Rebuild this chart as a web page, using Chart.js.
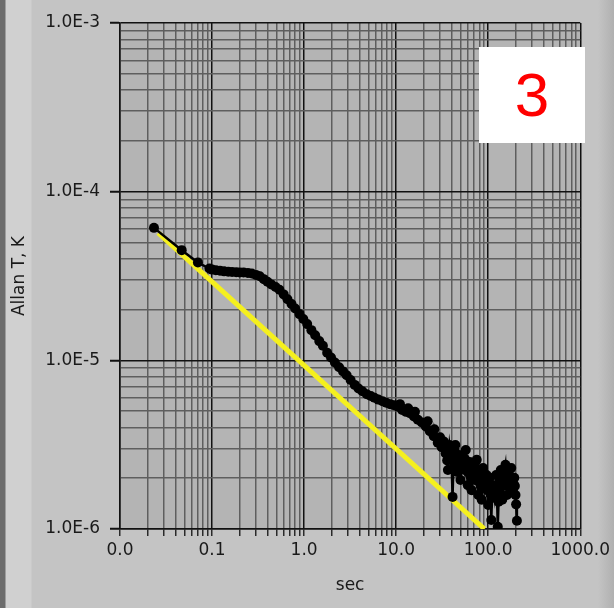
<!DOCTYPE html>
<html>
<head>
<meta charset="utf-8">
<script src="https://cdn.jsdelivr.net/npm/chart.js@4"></script>
<style>
  body { margin: 0; }
  #panel {
    position: relative; width: 614px; height: 608px; overflow: hidden;
    background: linear-gradient(to right, #6c6c6c 0px, #6c6c6c 5px, #d0d0d0 6px, #d0d0d0 31px, #c4c4c4 32px, #c4c4c4 598px, #b0b0b0 614px);
  }
  #myChart { position: absolute; left: 0; top: 0; }
  #tag {
    position: absolute; left: 479px; top: 47px; width: 106px; height: 96px;
    background: #ffffff; color: #ff0000; font-family: "Liberation Sans", Arial, sans-serif;
    font-size: 62px; line-height: 96px; text-align: center;
  }
</style>
</head>
<body>
<div id="panel">
  <canvas id="myChart" width="614" height="608"></canvas>
  <div id="tag">3</div>
</div>
<script>
let tau = [0.0234, 0.0468, 0.0702, 0.0936,
    0.1, 0.11, 0.122, 0.135, 0.15, 0.165, 0.183, 0.2, 0.22, 0.245,
    0.27, 0.3, 0.33, 0.365, 0.4, 0.44, 0.49, 0.54, 0.6, 0.66,
    0.73, 0.8, 0.89, 0.98, 1.08, 1.2, 1.32, 1.46, 1.6, 1.78,
    1.96, 2.16, 2.4, 2.65, 2.9, 3.2, 3.55, 3.9, 4.3, 4.8,
    5.3, 5.8, 6.4, 7.1, 7.8, 8.6, 9.5, 10.5, 11, 11.6,
    12.8, 13.5, 14.1, 15.6, 16, 17.2, 19, 21, 22, 23.2,
    25.6, 26, 28.3, 30, 31.2, 33, 34.5,
    35, 35.8, 36.5, 37.2, 38, 39, 40, 41, 41.8, 42.5,
    43.2, 44, 45, 46, 47, 48, 49, 50, 51, 52,
    53.5, 55, 56, 57, 58.5, 60, 61.5, 63, 64.5, 66,
    67.5, 69, 70.5, 72, 73.5, 75, 76.5, 78, 79.5, 81,
    83, 85, 86.5, 88, 90, 92, 94, 96, 98, 100,
    102, 104, 106, 108, 110, 112, 114.5, 117, 119.5, 122,
    124.5, 127, 129.5, 132, 134.5, 137, 139.5, 142, 145, 148,
    151, 154, 157, 160, 163, 166, 169, 172, 175, 178,
    181.5, 185, 188.5, 192, 195, 198, 201, 205];
let allanT = [6.1e-5, 4.5e-5, 3.8e-5, 3.5e-5,
    3.45e-5, 3.42e-5, 3.4e-5, 3.37e-5, 3.35e-5, 3.34e-5, 3.33e-5, 3.32e-5, 3.32e-5, 3.3e-5,
    3.27e-5, 3.21e-5, 3.15e-5, 3.03e-5, 2.92e-5, 2.82e-5, 2.72e-5, 2.62e-5, 2.46e-5, 2.3e-5,
    2.16e-5, 2.03e-5, 1.88e-5, 1.76e-5, 1.64e-5, 1.51e-5, 1.41e-5, 1.3e-5, 1.22e-5, 1.11e-5,
    1.04e-5, 9.7e-6, 9.1e-6, 8.6e-6, 8.15e-6, 7.65e-6, 7.15e-6, 6.8e-6, 6.55e-6, 6.3e-6,
    6.15e-6, 6.0e-6, 5.85e-6, 5.72e-6, 5.6e-6, 5.5e-6, 5.42e-6, 5.3e-6, 5.5e-6, 5.08e-6,
    4.95e-6, 5.2e-6, 4.85e-6, 4.65e-6, 4.95e-6, 4.45e-6, 4.28e-6, 4.05e-6, 4.35e-6, 3.8e-6,
    3.55e-6, 3.9e-6, 3.25e-6, 3.5e-6, 3.05e-6, 3.3e-6, 2.8e-6,
    2.94e-6, 2.55e-6, 2.24e-6, 2.7e-6, 3.15e-6, 2.85e-6, 2.57e-6, 1.55e-6, 2.3e-6, 2.5e-6,
    2.9e-6, 3.15e-6, 2.6e-6, 2.18e-6, 2.45e-6, 2.75e-6, 2.4e-6, 1.95e-6, 2.3e-6, 2.64e-6,
    2.4e-6, 2.24e-6, 2.6e-6, 2.94e-6, 2.3e-6, 1.82e-6, 2.15e-6, 2.5e-6, 2.05e-6, 1.7e-6,
    2.0e-6, 2.4e-6, 2.2e-6, 1.95e-6, 2.3e-6, 2.57e-6, 2.0e-6, 1.59e-6, 1.9e-6, 2.24e-6,
    1.8e-6, 1.49e-6, 1.85e-6, 2.3e-6, 2.0e-6, 1.75e-6, 1.9e-6, 2.09e-6, 1.7e-6, 1.39e-6,
    1.75e-6, 2.01e-6, 1.6e-6, 1.13e-6, 1.55e-6, 1.82e-6, 1.65e-6, 1.53e-6, 1.8e-6, 2.09e-6,
    1.6e-6, 1.03e-6, 1.45e-6, 1.7e-6, 2.0e-6, 2.24e-6, 1.85e-6, 1.49e-6, 1.8e-6, 2.07e-6,
    2.25e-6, 2.4e-6, 2.0e-6, 1.59e-6, 1.9e-6, 2.18e-6, 2.0e-6, 1.82e-6, 2.05e-6, 2.3e-6,
    2.0e-6, 1.7e-6, 1.85e-6, 2.01e-6, 1.8e-6, 1.59e-6, 1.4e-6, 1.12e-6];

// yellow reference line (end points)
let fitTau = [0.026, 91];
let fitT = [5.7e-5, 1.0e-6];

// axis decades
let xDecades = [0.01, 0.1, 1, 10, 100, 1000];
let yDecades = [1e-6, 1e-5, 1e-4, 1e-3];

function isDecade(v) {
    let l = Math.log10(v);
    return Math.abs(l - Math.round(l)) < 1e-6;
}

// 1..9 ticks in every decade, like the LabVIEW log grid
function logTicks(decades) {
    let out = [];
    for (let i = 0; i < decades.length; i++) {
        let d = decades[i];
        if (i == decades.length - 1) {
            out.push({ value: d });
            break;
        }
        for (let m = 1; m <= 9; m++) {
            out.push({ value: parseFloat((m * d).toPrecision(3)) });
        }
    }
    return out;
}

let pairs = tau.map((t, i) => ({ x: t, y: allanT[i] }));
let fitPairs = fitTau.map((t, i) => ({ x: t, y: fitT[i] }));

let labelFont = { family: 'DejaVu Sans', size: 17 };

const plotBg = {
    id: 'plotBg',
    beforeDraw(chart) {
        let a = chart.chartArea;
        let c = chart.ctx;
        c.save();
        c.fillStyle = '#b4b4b4';
        c.fillRect(a.left, a.top, a.right - a.left, a.bottom - a.top);
        c.restore();
    }
};

const config = {
    type: 'scatter',
    data: {
        datasets: [{
            data: pairs,
            showLine: true,
            borderColor: '#000000',
            borderWidth: 2.5,
            pointRadius: 5,
            pointBackgroundColor: '#000000',
            pointBorderColor: '#000000',
            pointBorderWidth: 0
        }, {
            data: fitPairs,
            showLine: true,
            borderColor: '#f5f01e',
            borderWidth: 5,
            pointRadius: 0
        }]
    },
    options: {
        responsive: false,
        animation: false,
        events: [],
        layout: { padding: { top: 23, right: 33, left: 0, bottom: 0 } },
        plugins: { legend: { display: false }, tooltip: { enabled: false } },
        scales: {
            x: {
                type: 'logarithmic',
                position: 'bottom',
                min: 0.01,
                max: 1000,
                afterBuildTicks: (scale) => { scale.ticks = logTicks(xDecades); },
                afterFit: (scale) => { scale.height = 79; },
                ticks: {
                    autoSkip: false,
                    maxRotation: 0,
                    padding: 4,
                    color: '#1a1a1a',
                    font: labelFont,
                    callback: (v) => isDecade(v) ? v.toFixed(1) : ''
                },
                grid: {
                    color: (ctx) => isDecade(ctx.tick.value) ? '#111111' : '#5e5e5e',
                    lineWidth: 1.5,
                    tickLength: 7,
                    tickColor: '#2a2a2a',
                    tickWidth: 1.5
                },
                border: { color: '#111111', width: 1.5 },
                title: { display: true, text: 'sec', color: '#1a1a1a', font: labelFont, padding: { top: 0, bottom: 12 } }
            },
            y: {
                type: 'logarithmic',
                position: 'left',
                min: 1e-6,
                max: 1e-3,
                afterBuildTicks: (scale) => { scale.ticks = logTicks(yDecades); },
                afterFit: (scale) => { scale.width = 120; },
                ticks: {
                    autoSkip: false,
                    padding: 10,
                    color: '#1a1a1a',
                    font: labelFont,
                    callback: (v) => isDecade(v) ? v.toExponential(1).toUpperCase() : ''
                },
                grid: {
                    color: (ctx) => isDecade(ctx.tick.value) ? '#111111' : '#5e5e5e',
                    lineWidth: 1.5,
                    tickLength: 10,
                    tickColor: (ctx) => isDecade(ctx.tick.value) ? '#111111' : 'rgba(0,0,0,0)',
                    tickWidth: 2
                },
                border: { color: '#111111', width: 1.5 },
                title: { display: true, text: 'Allan T, K', color: '#1a1a1a', font: labelFont, padding: { top: 9, bottom: 0 } }
            }
        }
    },
    plugins: [plotBg]
};

new Chart(document.getElementById('myChart'), config);
</script>
</body>
</html>
